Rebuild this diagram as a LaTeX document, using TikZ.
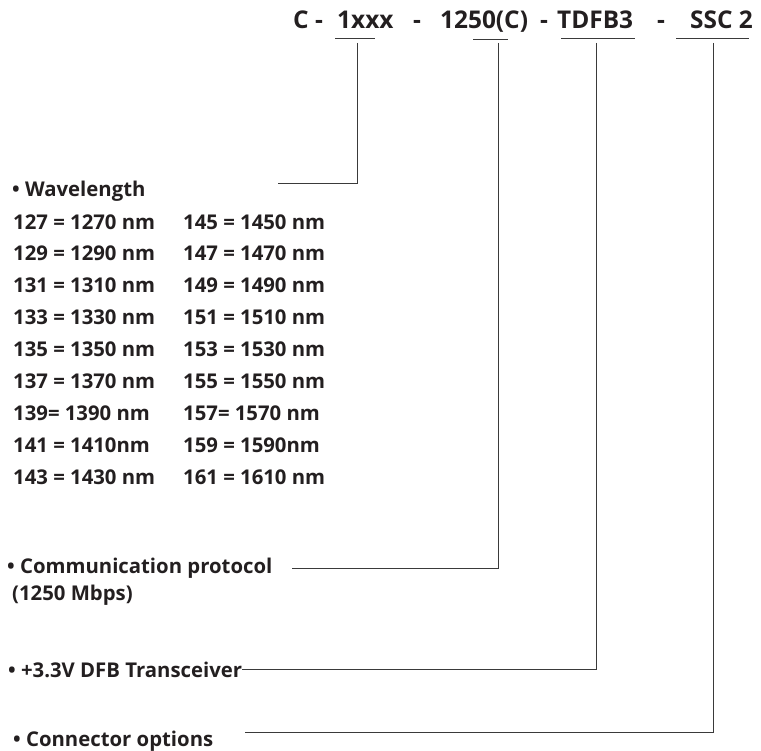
\documentclass[tikz,border=0pt]{standalone}
\usepackage{fontspec}
\setmainfont{Open Sans}
\definecolor{ink}{HTML}{231F20}
\definecolor{wire}{HTML}{3A3A3A}
\begin{document}
\begin{tikzpicture}[x=1bp,y=-1bp,
  txt/.style={anchor=base west, inner sep=0pt, font=\fontsize{20.4}{24}\selectfont\bfseries, text=ink},
  ttl/.style={anchor=base west, inner sep=0pt, font=\fontsize{24.5}{29}\selectfont\bfseries, text=ink},
  ln/.style={draw=wire, line width=1bp}]
\useasboundingbox (0,0) rectangle (761,751);
% title
\node[ttl] (tC)  at (293,29) {C -};
\node[ttl] (t1)  at (337,29) {1xxx};
\node[ttl] (td1) at (413,29) {-};
\node[ttl] (t2)  at (440,29) {1250(C)};
\node[ttl] (td2) at (540,29) {-};
\node[ttl] (t3)  at (557,29) {TDFB3};
\node[ttl] (td3) at (657,29) {-};
\node[ttl] (t4)  at (690,29) {SSC 2};
% underlines
\draw[ln] (335,39) -- (375,39);
\draw[ln] (473,40) -- (508,40);
\draw[ln] (561,39) -- (635,39);
\draw[ln] (676,39) -- (749,39);
% wavelength list
\node[txt] (wl) at (12,196) {• Wavelength};
\foreach \a/\b [count=\i from 0] in {127 = 1270 nm/145 = 1450 nm,129 = 1290 nm/147 = 1470 nm,131 = 1310 nm/149 = 1490 nm,133 = 1330 nm/151 = 1510 nm,135 = 1350 nm/153 = 1530 nm,137 = 1370 nm/155 = 1550 nm,139= 1390 nm/157= 1570 nm,141 = 1410nm/159 = 1590nm,143 = 1430 nm/161 = 1610 nm}{
  \node[txt] (wa\i) at (13,229+31.9*\i) {\a};
  \node[txt] (wb\i) at (183,229+31.9*\i) {\b};
}
\node[txt] (cp) at (7,573) {• Communication protocol};
\node[txt] (cp2) at (12,600) {(1250 Mbps)};
\node[txt] (tr) at (8,677) {• +3.3V DFB Transceiver};
\node[txt] (co) at (13,746) {• Connector options};
% connectors
\coordinate (v1) at (357,43);
\coordinate (v2) at (498,43);
\coordinate (v3) at (596,43);
\coordinate (v4) at (713,43);
\coordinate (e1) at (278,183);
\coordinate (e2) at (292,568);
\coordinate (e4) at (245,732);
\draw[ln] (v1) |- (e1);
\draw[ln] (v2) |- (e2);
\draw[ln] (v3) |- (tr.east);
\draw[ln] (v4) |- (e4);
\end{tikzpicture}
\end{document}
